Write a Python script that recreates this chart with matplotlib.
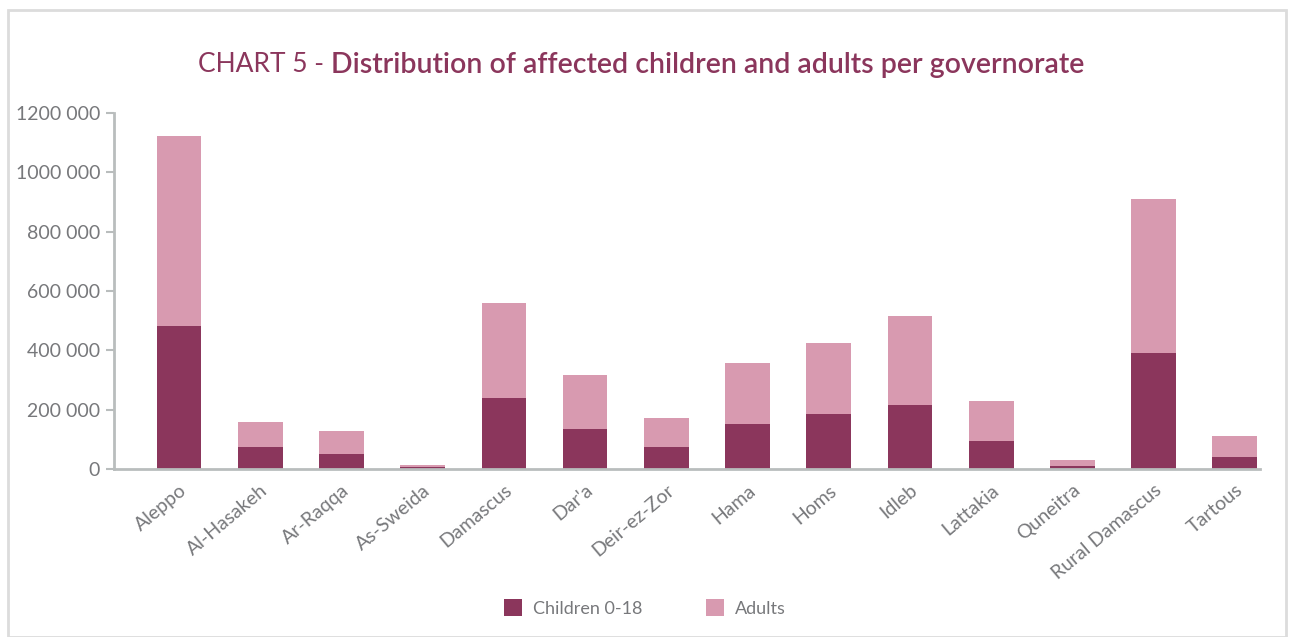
import matplotlib
matplotlib.use("Agg")
import matplotlib.pyplot as plt
from matplotlib.patches import Rectangle
from matplotlib.ticker import FuncFormatter

# values
governorates = ["Aleppo", "Al-Hasakeh", "Ar-Raqqa", "As-Sweida", "Damascus", "Dar'a",
                "Deir-ez-Zor", "Hama", "Homs", "Idleb", "Lattakia", "Quneitra",
                "Rural Damascus", "Tartous"]
children = [482000, 75000, 51000, 7000, 240000, 136000, 75000, 153000, 186000, 217000,
            95000, 9000, 391000, 41000]
totals = [1122000, 158000, 128000, 14000, 560000, 317000, 172000, 357000, 425000, 516000,
          229000, 31000, 910000, 111000]
adults = [t - c for t, c in zip(totals, children)]

DARK = "#8b365c"
LIGHT = "#d89ab0"
GREY_TXT = "#77787b"
SPINE = "#b9bdbd"

plt.rcParams['font.family'] = ['Lato', 'DejaVu Sans']


def fmt(v, pos):
    v = int(v)
    if v == 0:
        return "0"
    return f"{v // 1000} {v % 1000:03d}"


fig = plt.figure(figsize=(12.9, 6.37), dpi=100)
fig.patches.append(Rectangle((8 / 1290, 0), 1278 / 1290, 627 / 637, transform=fig.transFigure,
                             fill=False, edgecolor="#dcdcdc", linewidth=2))

ax = fig.add_axes([114 / 1290, 168 / 637, 1146 / 1290, 356 / 637])
x = range(len(governorates))
ax.bar(x, children, width=0.55, color=DARK, label="Children 0-18")
ax.bar(x, adults, width=0.55, bottom=children, color=LIGHT, label="Adults")

ax.set_ylim(0, 1200000)
ax.set_xlim(-0.8, 13.31)
ax.set_yticks(range(0, 1200001, 200000))
ax.yaxis.set_major_formatter(FuncFormatter(fmt))
ax.set_xticks(list(x))
ax.set_xticklabels(governorates, rotation=40, ha="right", rotation_mode="anchor")

for s in ["top", "right"]:
    ax.spines[s].set_visible(False)
for s in ["left", "bottom"]:
    ax.spines[s].set_color(SPINE)
    ax.spines[s].set_linewidth(2)
ax.tick_params(axis="y", colors=SPINE, labelcolor=GREY_TXT, labelsize=14, length=6, width=1.5, pad=4)
ax.tick_params(axis="x", length=0, labelcolor=GREY_TXT, labelsize=14, pad=9)

leg = fig.legend(loc="center", bbox_to_anchor=(0.5, 29 / 637), ncol=2, frameon=False,
                 fontsize=13, handlelength=1.0, handleheight=1.0, columnspacing=3.5,
                 handletextpad=0.6)
for t in leg.get_texts():
    t.set_color(GREY_TXT)

# two-part title, centred as a whole
fig.canvas.draw()
r = fig.canvas.get_renderer()
t1 = fig.text(0, 572 / 637, "CHART 5 - ", fontsize=19, color=DARK, fontweight="normal", va="center")
t2 = fig.text(0, 572 / 637, "Distribution of affected children and adults per governorate",
              fontsize=20.5, color=DARK, fontweight="semibold", va="center")
w1 = t1.get_window_extent(r).width
w2 = t2.get_window_extent(r).width
start = 641 - (w1 + w2) / 2
t1.set_x(start / 1290)
t2.set_x((start + w1) / 1290)

fig.savefig("out.png", dpi=100)
